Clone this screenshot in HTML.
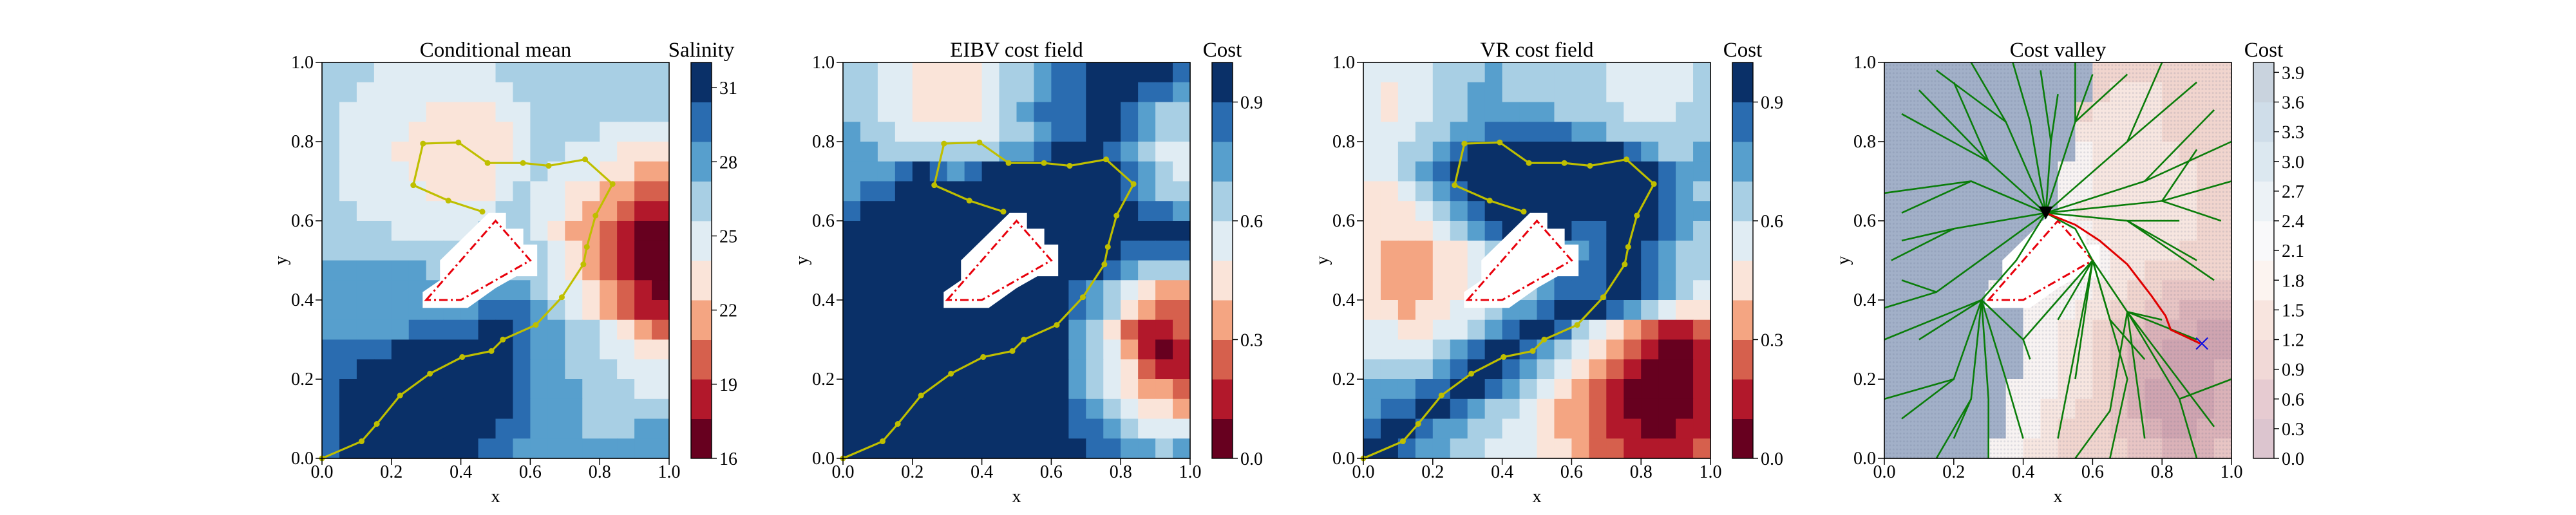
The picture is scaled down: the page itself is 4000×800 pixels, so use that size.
<!DOCTYPE html>
<html><head><meta charset="utf-8"><style>
html,body{margin:0;padding:0;background:#fff}
svg{display:block;font-family:"Liberation Serif",serif}
</style></head><body>
<svg id="fig" width="4000" height="800" viewBox="0 0 4000 800" xmlns="http://www.w3.org/2000/svg">
<defs>
<pattern id="dots" x="0" y="0" width="5.39" height="6.15" patternUnits="userSpaceOnUse"><circle cx="2.7" cy="3.07" r="1.5" fill="rgba(90,100,130,0.16)"/></pattern>
</defs>
</svg>
<script>
// ---------- data ----------
const panelTitles = ["Conditional mean","EIBV cost field","VR cost field","Cost valley"];
const cbTitles = ["Salinity","Cost","Cost","Cost"];
const axisTickValues = [0,0.2,0.4,0.6,0.8,1.0];
const axisTickLabels = ["0.0","0.2","0.4","0.6","0.8","1.0"];
const cb1TickValues = [16,19,22,25,28,31];
const cb1Range = [16,32.02];
const cb23TickValues = [0.0,0.3,0.6,0.9];
const cb23TickLabels = ["0.0","0.3","0.6","0.9"];
const cb23Range = [0,1.0];
const cb4TickValues = [0.0,0.3,0.6,0.9,1.2,1.5,1.8,2.1,2.4,2.7,3.0,3.3,3.6,3.9];
const cb4Range = [0,4.0];
const rdbu = ['#67001f','#b2182b','#d6604d','#f4a582','#fae4d9','#e0ecf3','#a8cfe4','#579fcd','#2a6cb0','#0a3068'];
const cb4Colors = ['#dcc5cf','#e6cbd1','#f1d9d7','#f8e5df','#fcf4f0','#f9f9fa','#ecf2f6','#dce8f0','#cfdde9','#c9d3de'];
const map4Colors = ['#cfa4b0','#dbb2b8','#e8c5c4','#f1d5ce','#f7e6e0','#f8f3f2','#eef0f3','#d5dce7','#b8c3d6','#a2b0c8'];

// level grids, rows top (y=1) to bottom, 20 cols x=0..1
const gridMean = [
"66655555556666666666","66555555555666666666","65555544445566666666","65555444444566665555",
"65554444444566555444","65555444445565554433","65555544445655443322","66555555556655433211",
"66665555566654332100","66666666666665432100","77777766666665432100","77777777777765543210",
"77777777788876543211","77777888899877665432","88889999999877665544","88999999999877666555",
"89999999999877766655","89999999999877766666","89999999998877766677","89999999988777777777"];
const gridEIBV = [
"66554444566788999998","66554444566788999887","66554444567888998766","76655555566788998766",
"77666666677899987655","77789878999999998765","78899999999999998766","89999999999999999887",
"99999999999999999999","99999999999999998888","99999999999999987666","99999999999998765433",
"99999999999998764322","99999999999997642112","99999999999997653101","99999999999997654211",
"99999999999997654332","99999999999998765443","99999999999998876555","99999999999999887767"];
const gridVR = [
"55556667666666555556","54556677666666555556","54556677777666655566","55566778888877666666",
"55667899999999987667","55678999999999999877","44567899999999999876","44456789999999999877",
"44445678999988999876","43334456677778998766","43334456777888998766","43334455667888998765",
"44344556778999876544","55445567899865432112","55556789987654321001","66667899876543210001",
"77788998765432100001","78899876654332100001","89987766554332110011","99877665554432211112"];
const gridValley = [
"99999999999933333333","99999999999934443333","99999999999344443333","99999999999444443333",
"99999999999544444333","99999999995544444433","99999999995544444433","99999999995444444433",
"99999999955544444433","99999999555554444333","99999995555554433333","99999955555544332222",
"99999999555443322111","99999999554432211100","99999999554432110000","99999999554432110001",
"99999995554432100001","99999995544332100001","99999995543332210011","99999955443333221112"];

// trajectory (panels 1-3)
const trajX = [0.0,0.114,0.158,0.225,0.311,0.404,0.488,0.521,0.616,0.691,0.753,0.763,0.788,0.837,0.758,0.653,0.579,0.477,0.393,0.291,0.263,0.364,0.462];
const trajY = [0.0,0.043,0.087,0.159,0.214,0.256,0.271,0.300,0.337,0.407,0.490,0.534,0.613,0.693,0.755,0.739,0.746,0.746,0.798,0.795,0.690,0.651,0.623];
// obstacle polygon
const obsX = [0.3,0.5,0.6,0.4];
const obsY = [0.4,0.6,0.5,0.4];
const maskX = [0.29,0.42,0.5,0.56,0.62,0.62,0.58,0.58,0.53,0.53,0.48,0.34,0.34,0.29];
const maskY = [0.38,0.38,0.43,0.46,0.46,0.54,0.54,0.58,0.58,0.62,0.62,0.5,0.45,0.42];
// cost valley tree branches (flat x,y lists)
const treeBranches = [
[.465,.62,.3,.75,.1,.93],[.3,.75,.05,.87],[.465,.62,.25,.7,0,.67],[.25,.7,.05,.62],
[.465,.62,.2,.58,.02,.5],[.2,.58,.05,.55],[.465,.62,.35,.85,.25,1.0],[.35,.85,.15,.98],
[.465,.62,.42,.85,.37,1.0],[.465,.62,.48,.8,.5,.92],[.48,.8,.45,.98],[.465,.62,.55,.85,.6,.97],
[.55,.85,.7,.97],[.465,.62,.7,.8,.8,1.0],[.7,.8,.9,.95],[.465,.62,.75,.7,1.0,.8],
[.75,.7,.95,.88],[.465,.62,.8,.65,1.0,.7],[.8,.65,.97,.6],[.465,.62,.7,.6,.9,.5],
[.7,.6,.95,.45],[.465,.62,.55,.58,.6,.5],[.6,.5,.5,.35],[.6,.5,.55,.2],[.6,.5,.5,.05],
[.6,.5,.65,.35,.75,.25],[.6,.5,.7,.37,.8,.35],[.7,.37,.9,.3],[.7,.37,.85,.15],
[.7,.37,.95,.08],[.7,.37,.75,.05],[.7,.37,.65,.12,.55,0],[.6,.5,.7,.2,.65,0],
[.85,.15,1.0,.2],[.85,.15,.9,0],[.465,.62,.38,.5,.28,.4],[.28,.4,.1,.3],[.28,.4,0,.3],
[.28,.4,.2,.2,.05,.1],[.28,.4,.25,.15,.15,0],[.28,.4,.3,.15,.3,0],[.28,.4,.35,.2,.4,.05],
[.28,.4,.4,.3,.42,.25],[.2,.2,0,.15],[.465,.62,.15,.42,0,.38],[.15,.42,.05,.45],
[.25,.15,.2,.05],[.6,.5,.4,.3],[.8,.65,.9,.78],[.55,.85,.55,1.0],[.3,.75,.2,.95],[.7,.6,.85,.6]];
const pathX = [0.465,0.55,0.62,0.70,0.77,0.81,0.825,0.91];
const pathY = [0.62,0.59,0.55,0.49,0.41,0.36,0.325,0.29];
const startPt = [0.465,0.62];
const goalPt = [0.915,0.29];

// ---------- layout ----------
const NS = "http://www.w3.org/2000/svg";
const svg = document.getElementById('fig');
const panelLeft = [500,1309,2117,2926];
const AW = 539, AT = 97, AH = 615;
function el(tag, attrs, parent){const e=document.createElementNS(NS,tag);for(const k in attrs)e.setAttribute(k,attrs[k]);(parent||svg).appendChild(e);return e;}
function sx(p,v){return panelLeft[p]+v*AW;}
function sy(v){return AT+AH-v*AH;}

function drawGrid(p, grid, colors, name){
  const g = el('g',{});
  
  
  const cw = AW/20, ch = AH/20;
  grid.forEach((row,r)=>{
    const s = (row+row.slice(-1).repeat(20)).slice(0,20);
    for(let c=0;c<20;c++){
      const lv = +s[c];
      const rc = el('rect',{x:sx(p,c/20), y:sy(1-r/20), width:cw+0.6, height:ch+0.6, fill:colors[lv]}, g);
      
      
    }
  });
}
function pts(p, xs, ys){return xs.map((x,i)=>sx(p,x)+','+sy(ys[i])).join(' ');}

function drawObstacle(p){
  const m = el('polygon',{points:pts(p,maskX,maskY), fill:'#fff'});
  
  
  const o = el('polygon',{points:pts(p,obsX,obsY), fill:'none', stroke:'#e8000b', 'stroke-width':3, 'stroke-dasharray':'13,5,3,5'});
  
  
}
function drawTraj(p){
  const l = el('polyline',{points:pts(p,trajX,trajY), fill:'none', stroke:'#bfbf00', 'stroke-width':3.2});
  
  
  trajX.forEach((x,i)=>{
    const c = el('circle',{cx:sx(p,x), cy:sy(trajY[i]), r:4.5, fill:'#bfbf00'});
    
    
  });
}
function drawAxes(p){
  const f = el('rect',{x:panelLeft[p], y:AT, width:AW, height:AH, fill:'none', stroke:'#000', 'stroke-width':1.6});
  
  
  axisTickValues.forEach((v,i)=>{
    const X = sx(p,v), Y = sy(v);
    el('line',{x1:X,x2:X,y1:AT+AH,y2:AT+AH+10,stroke:'#000','stroke-width':1.5});
    el('line',{x1:panelLeft[p]-10,x2:panelLeft[p],y1:Y,y2:Y,stroke:'#000','stroke-width':1.5});
    const tx = el('text',{x:X,y:742,'font-size':28,'text-anchor':'middle'}); tx.textContent = axisTickLabels[i];
    
    
    const ty = el('text',{x:panelLeft[p]-13,y:Y+9,'font-size':28,'text-anchor':'end'}); ty.textContent = axisTickLabels[i];
    
    
  });
  const xl = el('text',{x:panelLeft[p]+AW/2,y:780,'font-size':28,'text-anchor':'middle'}); xl.textContent='x';
  
  
  const yl = el('text',{x:0,y:0,'font-size':28,'text-anchor':'middle',transform:`translate(${panelLeft[p]-55},${AT+AH/2}) rotate(-90)`}); yl.textContent='y';
  
  
  const t = el('text',{x:panelLeft[p]+AW/2,y:88,'font-size':33,'text-anchor':'middle'}); t.textContent=panelTitles[p];
  
  
}
function drawColorbar(p, colors, bounds, tickFracs, tickLabels){
  const x0 = panelLeft[p]+573, w = 32;
  const g = el('g',{});
  
  
  colors.forEach((c,i)=>{
    const yTop = AT+AH-bounds[i+1]*AH, yBot = AT+AH-bounds[i]*AH;
    el('rect',{x:x0,y:yTop,width:w,height:yBot-yTop+0.5,fill:c},g);
  });
  el('rect',{x:x0,y:AT,width:w,height:AH,fill:'none',stroke:'#000','stroke-width':1.4},g);
  tickFracs.forEach((f,i)=>{
    const Y = AT+AH-f*AH;
    el('line',{x1:x0+w,x2:x0+w+8,y1:Y,y2:Y,stroke:'#000','stroke-width':1.4},g);
    const t = el('text',{x:x0+w+12,y:Y+10,'font-size':28},g); t.textContent = tickLabels[i];
    
    
  });
  const ct = el('text',{x:x0+w/2,y:88,'font-size':33,'text-anchor':'middle'}); ct.textContent = cbTitles[p];
  
  
}
const eqBounds = [0,.1,.2,.3,.4,.5,.6,.7,.8,.9,1];
const cb23Fracs = cb23TickValues.map(v=>(v-cb23Range[0])/(cb23Range[1]-cb23Range[0]));

// Panel 1
drawGrid(0, gridMean, rdbu, 'salinity-heatmap');
drawObstacle(0); drawTraj(0); drawAxes(0);
drawColorbar(0, rdbu, eqBounds, cb1TickValues.map(v=>(v-cb1Range[0])/(cb1Range[1]-cb1Range[0])), cb1TickValues.map(String));
// Panel 2
drawGrid(1, gridEIBV, rdbu, 'eibv-heatmap');
drawObstacle(1); drawTraj(1); drawAxes(1);
drawColorbar(1, rdbu, eqBounds, cb23Fracs, cb23TickLabels);
// Panel 3
drawGrid(2, gridVR, rdbu, 'vr-heatmap');
drawObstacle(2); drawTraj(2); drawAxes(2);
drawColorbar(2, rdbu, eqBounds, cb23Fracs, cb23TickLabels);
// Panel 4
drawGrid(3, gridValley, map4Colors, 'cost-valley-heatmap');
const dots = el('rect',{x:panelLeft[3],y:AT,width:AW,height:AH,fill:'url(#dots)'});


drawObstacle(3);
treeBranches.forEach(b=>{
  const xs=[],ys=[];for(let i=0;i<b.length;i+=2){xs.push(b[i]);ys.push(b[i+1]);}
  const l = el('polyline',{points:pts(3,xs,ys),fill:'none',stroke:'#0a7d0a','stroke-width':2.6});
  
  
});
const rp = el('polyline',{points:pts(3,pathX,pathY),fill:'none',stroke:'#e00000','stroke-width':3});


{
  const X=sx(3,startPt[0]), Y=sy(startPt[1]);
  const tri = el('polygon',{points:`${X-11},${Y-10} ${X+11},${Y-10} ${X},${Y+10}`,fill:'#000'});
  
  
  const gx=sx(3,goalPt[0]), gy=sy(goalPt[1]);
  const gm = el('path',{d:`M${gx-9},${gy-9}L${gx+9},${gy+9}M${gx-9},${gy+9}L${gx+9},${gy-9}`,stroke:'#1010e0','stroke-width':2.2});
  
  
}
drawAxes(3);
drawColorbar(3, cb4Colors, eqBounds, cb4TickValues.map(v=>(v-cb4Range[0])/(cb4Range[1]-cb4Range[0])), cb4TickValues.map(v=>v.toFixed(1)));
</script>
</body></html>
